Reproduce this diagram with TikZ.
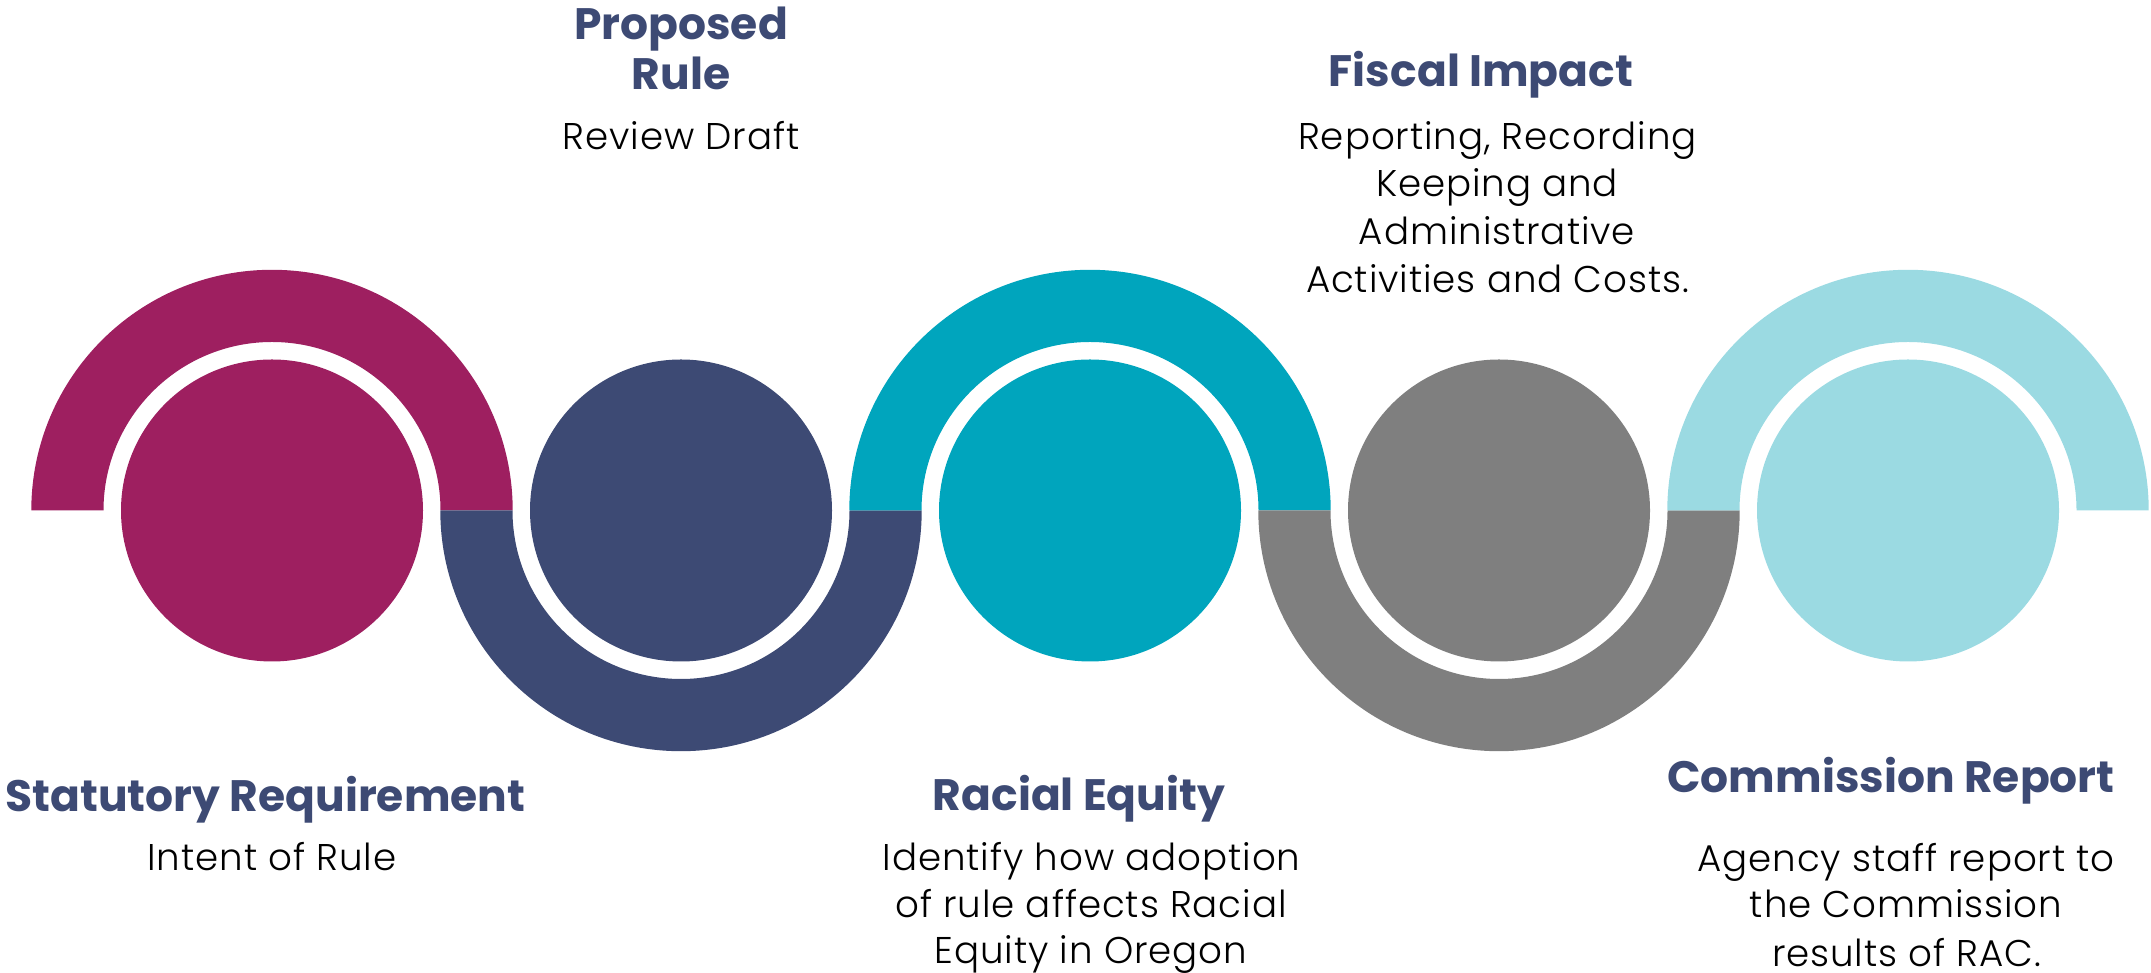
\documentclass[tikz,border=0pt]{standalone}
\usepackage{fontspec}
\setmainfont{Poppins}
\IfFontExistsTF{Poppins Light}{\newfontfamily\bodyfont{Poppins Light}}{\newfontfamily\bodyfont{Poppins}}
\usetikzlibrary{calc}
\definecolor{cmag}{RGB}{158,31,96}
\definecolor{cnavy}{RGB}{61,74,116}
\definecolor{cteal}{RGB}{0,165,189}
\definecolor{cgray}{RGB}{127,127,127}
\definecolor{clight}{RGB}{155,218,226}
\tikzset{
  dot/.style={circle, inner sep=0pt, minimum size=151pt},
  ttl/.style={anchor=base, inner sep=0pt, text=cnavy, font=\fontsize{22}{25}\selectfont\bfseries},
  bdy/.style={anchor=base, inner sep=0pt, text=black, font=\bodyfont\fontsize{18.6}{23.75}\selectfont\addfontfeature{LetterSpace=2.5}},
}
\newcommand{\tophalf}[2]{\fill[#2] ($(#1)+(-240.7,0)$) arc[start angle=180, end angle=0, radius=120.35pt] -- ($(#1)+(168.5,0)$) arc[start angle=0, end angle=180, radius=84.25pt] -- cycle;}
\newcommand{\bothalf}[2]{\fill[#2] ($(#1)+(-240.7,0)$) arc[start angle=180, end angle=360, radius=120.35pt] -- ($(#1)+(168.5,0)$) arc[start angle=360, end angle=180, radius=84.25pt] -- cycle;}
\begin{document}
\begin{tikzpicture}[x=0.5pt,y=0.5pt]
\useasboundingbox (0,0) rectangle (2151,973);
\coordinate (p1) at (272,462.5);
\coordinate (p2) at (681,462.5);
\coordinate (p3) at (1090,462.5);
\coordinate (p4) at (1499,462.5);
\coordinate (p5) at (1908,462.5);
\tophalf{p1}{cmag}
\bothalf{p2}{cnavy}
\tophalf{p3}{cteal}
\bothalf{p4}{cgray}
\tophalf{p5}{clight}
\node[dot, fill=cmag] (d1) at (p1) {};
\node[dot, fill=cnavy] (d2) at (p2) {};
\node[dot, fill=cteal] (d3) at (p3) {};
\node[dot, fill=cgray] (d4) at (p4) {};
\node[dot, fill=clight] (d5) at (p5) {};
% top texts
\node[ttl] (a1) at (681,{973-39.3}) {Proposed};
\node[ttl] (a2) at (681,{973-89.3}) {Rule};
\node[bdy] (a3) at (681,{973-150}) {Review Draft};
\node[ttl] (b1) at (1481,{973-86.7}) {Fiscal Impact};
\node[bdy] (b2) at (1497.5,{973-150}) {Reporting, Recording};
\node[bdy] (b3) at (1497,{973-196.7}) {Keeping and};
\node[bdy] (b4) at (1497,{973-245}) {Administrative};
\node[bdy] (b5) at (1497.5,{973-293}) {Activities and Costs.};
% bottom texts
\node[ttl] (c1) at (265.5,{973-811.7}) {Statutory Requirement};
\node[bdy] (c2) at (272,{973-870.7}) {Intent of Rule};
\node[ttl] (e1) at (1079,{973-811}) {Racial Equity};
\node[bdy] (e2) at (1091.5,{973-870.7}) {Identify how adoption};
\node[bdy] (e3) at (1091,{973-918}) {of rule affects Racial};
\node[bdy] (e4) at (1091,{973-964}) {Equity in Oregon};
\node[ttl] (f1) at (1891,{973-792.3}) {Commission Report};
\node[bdy] (f2) at (1906,{973-871.7}) {Agency staff report to};
\node[bdy] (f3) at (1906,{973-918}) {the Commission};
\node[bdy] (f4) at (1906.5,{973-966.7}) {results of RAC.};
\end{tikzpicture}
\end{document}
